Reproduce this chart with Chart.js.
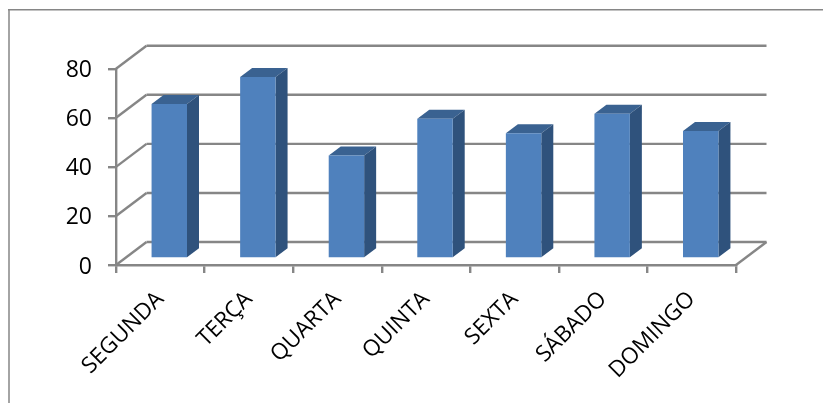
<!DOCTYPE html>
<html>
<head>
<meta charset="utf-8">
<style>
    html, body { margin: 0; padding: 0; background: #fff; }
    #wrap { width: 823px; height: 403px; }
</style>
<script src="https://cdn.jsdelivr.net/npm/chart.js@4/dist/chart.umd.min.js"></script>
</head>
<body>
<div id="wrap"><canvas id="myChart"></canvas></div>
<script>
const days = ["SEGUNDA", "TERÇA", "QUARTA", "QUINTA", "SEXTA", "SÁBADO", "DOMINGO"];
const values = [63, 74, 42, 57, 51, 59, 52];
const yTicks = [0, 20, 40, 60, 80];

const gridColor = "#868686";
const frontColor = "#4f81bd";
const topColor = "#3a6291";
const sideColor = "#2f527c";

// depth of the fake 3D box, and how far the bars sit inside it
const wallDx = 30.5;
const wallDy = -23;
const barDx = 9;
const barDy = -6.5;
const barDepthX = 12;
const barDepthY = -9;

function line(c, x1, y1, x2, y2) {
    c.beginPath();
    c.moveTo(x1, y1);
    c.lineTo(x2, y2);
    c.stroke();
}

function poly(c, pts, color) {
    c.fillStyle = color;
    c.beginPath();
    c.moveTo(pts[0][0], pts[0][1]);
    for (let i = 1; i < pts.length; i++) c.lineTo(pts[i][0], pts[i][1]);
    c.closePath();
    c.fill();
}

const box3d = {
    id: "box3d",
    afterLayout(chart) {
        // y labels sit a little lower than "middle" gives
        chart.scales.y.getLabelItems().forEach(item => {
            item.options.translation[1] += 2;
        });
    },
    beforeDatasetsDraw(chart) {
        const c = chart.ctx;
        const x = chart.scales.x;
        const y = chart.scales.y;

        c.save();
        c.strokeStyle = gridColor;
        c.lineWidth = 2.4;

        // left wall and back wall lines
        yTicks.forEach(t => {
            const py = y.getPixelForValue(t);
            line(c, x.left, py, x.left + wallDx, py + wallDy);
            line(c, x.left + wallDx, py + wallDy, x.right + wallDx, py + wallDy);
        });

        // right edge of the floor
        const y0 = y.getPixelForValue(0);
        line(c, x.right, y0, x.right + wallDx, y0 + wallDy);
        c.restore();
    },
    beforeDatasetDraw(chart) {
        const c = chart.ctx;
        c.save();
        c.translate(barDx, barDy);

        chart.getDatasetMeta(0).data.forEach(bar => {
            const l = bar.x - bar.width / 2;
            const r = bar.x + bar.width / 2;
            poly(c, [
                [l, bar.y],
                [r, bar.y],
                [r + barDepthX, bar.y + barDepthY],
                [l + barDepthX, bar.y + barDepthY]
            ], topColor);
            poly(c, [
                [r, bar.y],
                [r + barDepthX, bar.y + barDepthY],
                [r + barDepthX, bar.base + barDepthY],
                [r, bar.base]
            ], sideColor);
        });
    },
    afterDatasetDraw(chart) {
        chart.ctx.restore();
    },
    afterDraw(chart) {
        // outer chart frame
        const c = chart.ctx;
        c.save();
        c.strokeStyle = gridColor;
        c.lineWidth = 1.5;
        line(c, 9, 9, 9, 403);
        line(c, 8, 9.7, 823, 9.7);
        c.restore();
    }
};

const ctx = document.getElementById("myChart");

new Chart(ctx, {
    type: "bar",
    data: {
        labels: days,
        datasets: [
            {
                data: values,
                backgroundColor: frontColor,
                borderWidth: 0,
                barPercentage: 0.4,
                categoryPercentage: 1
            }
        ]
    },
    options: {
        responsive: true,
        maintainAspectRatio: false,
        animation: false,
        layout: {
            padding: { left: 10, top: 68.7, right: 87, bottom: 0 }
        },
        plugins: {
            legend: { display: false },
            tooltip: { enabled: false }
        },
        scales: {
            x: {
                afterFit(scale) { scale.height = 138; },
                grid: {
                    offset: true,
                    drawOnChartArea: false,
                    color: gridColor,
                    lineWidth: 2.4,
                    tickLength: 8
                },
                border: { color: gridColor, width: 2.4 },
                ticks: {
                    minRotation: 45,
                    maxRotation: 45,
                    padding: 13,
                    color: "#000",
                    font: { family: "'Open Sans'", size: 22.5 }
                }
            },
            y: {
                min: 0,
                max: 80,
                afterFit(scale) { scale.width = 106; },
                afterBuildTicks(scale) { scale.ticks = yTicks.map(v => ({ value: v })); },
                grid: {
                    drawOnChartArea: false,
                    color: gridColor,
                    lineWidth: 2.4,
                    tickLength: 8
                },
                border: { color: gridColor, width: 2.4 },
                ticks: {
                    padding: 16,
                    color: "#000",
                    font: { family: "'Open Sans'", size: 23 }
                }
            }
        }
    },
    plugins: [box3d]
});
</script>
</body>
</html>
